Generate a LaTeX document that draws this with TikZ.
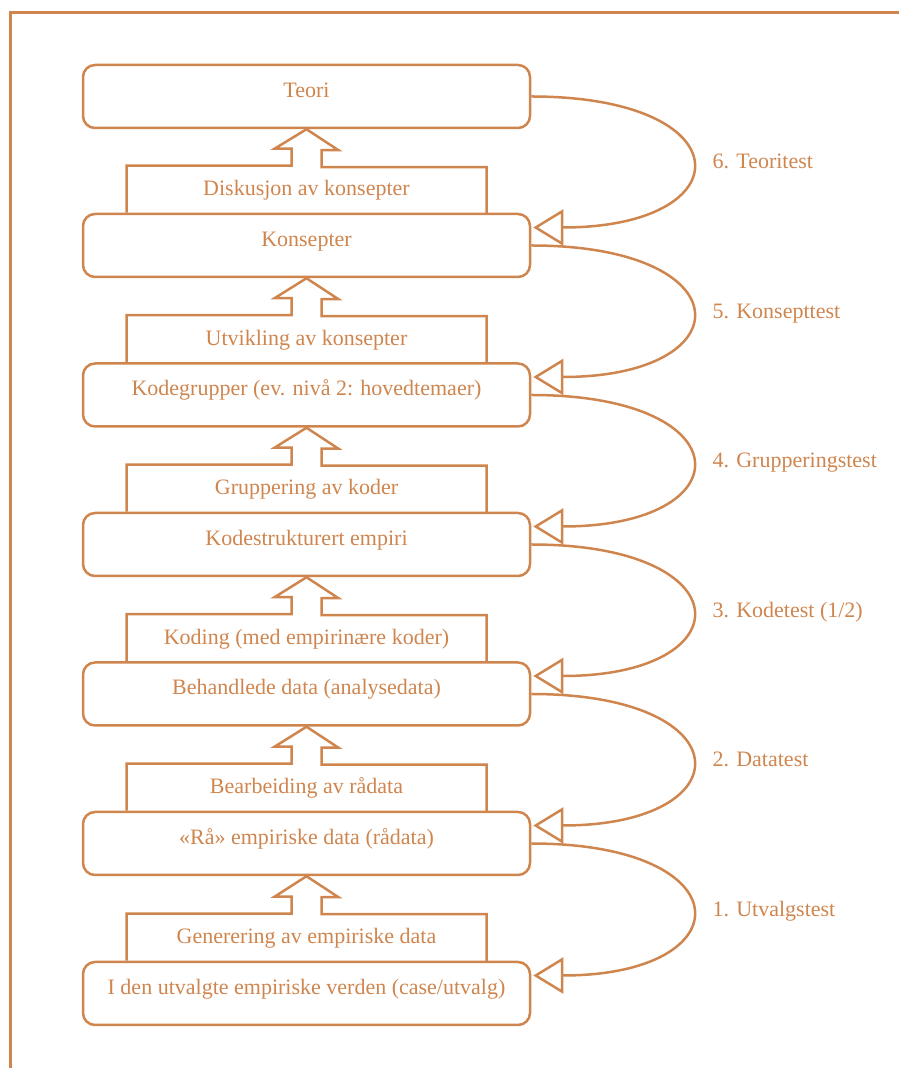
\documentclass[tikz,border=0pt]{standalone}
\usepackage{fontspec}
\setmainfont{Liberation Serif}
\usetikzlibrary{arrows.meta}
\definecolor{ochre}{RGB}{207,133,78}
\begin{document}
\begin{tikzpicture}[x=1pt,y=1pt,
  txt/.style={text=ochre, font=\fontsize{22}{26}\selectfont},
  box/.style={txt, draw=ochre, line width=2.5pt, rounded corners=12pt,
    minimum width=447pt, minimum height=63pt, inner sep=0pt,
    text height=17pt, text depth=15pt},
  steplabel/.style={txt, inner sep=0pt, anchor=base},
  blockarrow/.style={draw=ochre, line width=2.5pt, line join=miter},
  testarrow/.style={draw=ochre, line width=2.5pt,
    -{Triangle[open, length=30pt, width=36pt]}},
  testlabel/.style={txt, inner sep=0pt, anchor=base west}]
\useasboundingbox (0,0) rectangle (899,1068);
\clip (0,0) rectangle (899,1068);

% outer frame (only its top and left sides fall on the page)
\draw[ochre, line width=3pt] (10,-20) -- (10,1055) -- (920,1055);

% levels of the analysis
\node[box] (teori)       at (306.5,971.5) {Teori};
\node[box] (konsepter)   at (306.5,822.5) {Konsepter};
\node[box] (kodegrupper) at (306.5,673)   {Kodegrupper (ev. nivå 2: hovedtemaer)};
\node[box] (kodestrukt)  at (306.5,523.5) {Kodestrukturert empiri};
\node[box] (behandlede)  at (306.5,374)   {Behandlede data (analysedata)};
\node[box] (raa)         at (306.5,224.5) {«Rå» empiriske data (rådata)};
\node[box] (verden)      at (306.5,74.5)  {I den utvalgte empiriske verden (case/utvalg)};

% block arrows leading upwards, with the work step written inside
\foreach \lo/\up/\step in {
    verden/raa/{Generering av empiriske data},
    raa/behandlede/{Bearbeiding av rådata},
    behandlede/kodestrukt/{Koding (med empirinære koder)},
    kodestrukt/kodegrupper/{Gruppering av koder},
    kodegrupper/konsepter/{Utvikling av konsepter},
    konsepter/teori/{Diskusjon av konsepter}} {
  \draw[blockarrow] ([xshift=-180pt]\lo.north) -- ++(0,47) -- ++(165,0)
    -- ++(0,17) -- ++(-17,0) -- (\up.south) -- ++(32,-21) -- ++(-17,0)
    -- ++(0,-17) -- ++(165,0) -- ++(0,-47);
  \node[steplabel] (step-\lo) at ([yshift=17pt]\lo.north) {\step};
}

% test loops on the right, from each level back down to the one below
\foreach \hi/\lo/\test in {
    teori/konsepter/{6. Teoritest},
    konsepter/kodegrupper/{5. Konsepttest},
    kodegrupper/kodestrukt/{4. Grupperingstest},
    kodestrukt/behandlede/{3. Kodetest (1/2)},
    behandlede/raa/{2. Datatest},
    raa/verden/{1. Utvalgstest}} {
  \draw[testarrow] (\hi.east) .. controls +(213,0) and +(211,0)
    .. ([xshift=2pt,yshift=18pt]\lo.east)
    node[testlabel, pos=0.5, xshift=20pt, yshift=-7pt] (test-\lo) {\test};
}
\end{tikzpicture}
\end{document}
